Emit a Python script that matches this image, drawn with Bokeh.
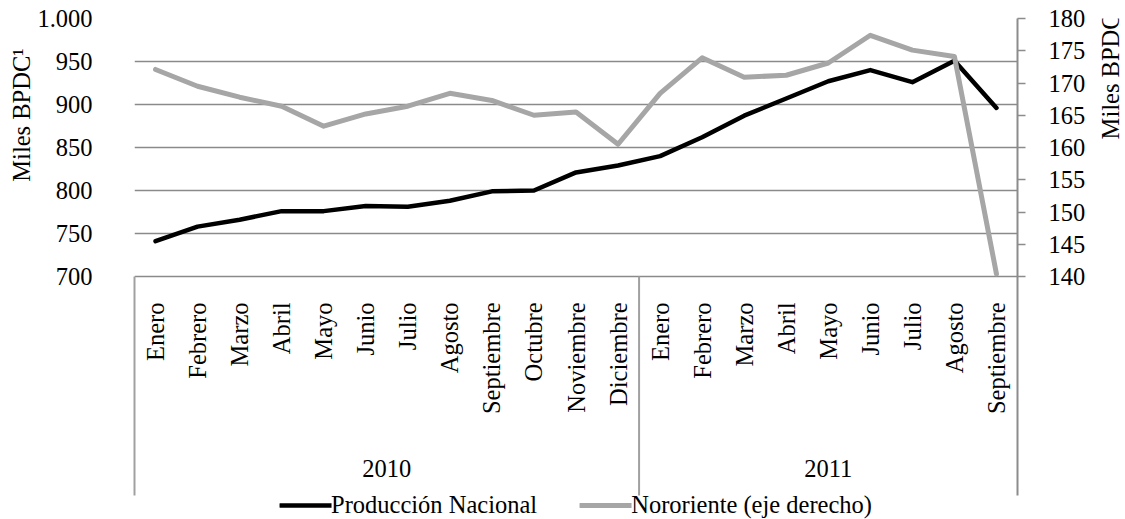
import math
from bokeh.plotting import figure
from bokeh.layouts import row
from bokeh.models import Range1d, LinearAxis, FixedTicker, Legend, LegendItem
from bokeh.core.properties import value
from bokeh.embed import file_html
from bokeh.resources import INLINE

# ---------------- data ----------------
years = ["2010", "2011"]
months_2010 = ["Enero", "Febrero", "Marzo", "Abril", "Mayo", "Junio", "Julio",
               "Agosto", "Septiembre", "Octubre", "Noviembre", "Diciembre"]
months_2011 = ["Enero", "Febrero", "Marzo", "Abril", "Mayo", "Junio", "Julio",
               "Agosto", "Septiembre"]
produccion = [741, 758, 766, 776, 776, 782, 781, 788, 799, 800, 821, 829,
              840, 862, 887, 907, 927, 940, 926, 951, 896]
nororiente = [172.1, 169.5, 167.8, 166.4, 163.3, 165.2, 166.4, 168.4, 167.3, 165.0, 165.5, 160.5,
              168.4, 173.9, 170.9, 171.2, 173.1, 177.4, 175.1, 174.1, 140.4]
left_ticks = [700, 750, 800, 850, 900, 950, 1000]
right_ticks = [140, 145, 150, 155, 160, 165, 170, 175, 180]
left_title = "Miles BPDC¹"
right_title = "Miles BPDC"
series_names = ["Producción Nacional", "Nororiente (eje derecho)"]

# ---------------- layout ----------------
FONT_NAME = "Liberation Serif"
FONT = value(FONT_NAME)
FS = "24.5px"
H = 519
LW, MW, RW = 34, 1061, 30          # left title / main / right title widths
BL = 98                            # main figure left border
FW = 885                           # frame width
BR = MW - BL - FW
BT = 18
FH = H - BT                        # frame height
TOP_H = 258                        # pixel height of the value area
SEP_END = 477                      # separator lines end (px below frame top)

months = months_2010 + months_2011
n = len(months)
xs = [i + 0.5 for i in range(n)]

l_lo, l_hi = left_ticks[0], left_ticks[-1]
r_lo, r_hi = right_ticks[0], right_ticks[-1]
scale = FH / TOP_H
y_start = l_hi - (l_hi - l_lo) * scale
r_start = r_hi - (r_hi - r_lo) * scale

p = figure(width=MW, height=H, output_backend="svg", toolbar_location=None,
           x_range=Range1d(0, n), y_range=Range1d(y_start, l_hi),
           x_axis_location=None, y_axis_location="left",
           min_border_left=BL, min_border_right=BR, min_border_top=BT, min_border_bottom=0,
           background_fill_color="white", border_fill_color="white")
p.outline_line_color = None
p.extra_y_ranges = {"right": Range1d(r_start, r_hi), "px": Range1d(-FH, 0)}

# grid
p.xgrid.visible = False
p.ygrid.ticker = FixedTicker(ticks=left_ticks)
p.ygrid.grid_line_color = "#8a8a8a"
p.ygrid.grid_line_width = 1.5

# left axis
la = p.yaxis[0]
la.ticker = FixedTicker(ticks=left_ticks)
la.major_label_overrides = {1000: "1.000"}
la.bounds = (l_hi - (l_hi - l_lo) * SEP_END / TOP_H, l_lo)
la.axis_line_color = "#a0a0a0"
la.axis_line_width = 2
la.major_tick_line_color = None
la.minor_tick_line_color = None
la.major_tick_out = 0
la.major_tick_in = 0
la.major_label_standoff = 42
la.major_label_text_font = FONT_NAME
la.major_label_text_font_size = FS
la.major_label_text_color = "black"

# right axis
ra = LinearAxis(y_range_name="right", ticker=FixedTicker(ticks=right_ticks))
ra.bounds = (r_hi - (r_hi - r_lo) * SEP_END / TOP_H, r_hi)
ra.axis_line_color = "#8c8c8c"
ra.axis_line_width = 2
ra.major_tick_line_color = "#8c8c8c"
ra.major_tick_line_width = 1.5
ra.major_tick_out = 8
ra.major_tick_in = 0
ra.minor_tick_line_color = None
ra.major_label_standoff = 23
ra.major_label_text_font = FONT_NAME
ra.major_label_text_font_size = FS
ra.major_label_text_color = "black"
p.add_layout(ra, "right")

# group separator
p.segment(x0=[len(months_2010)], y0=[-TOP_H], x1=[len(months_2010)], y1=[-SEP_END],
          y_range_name="px", line_color="#a0a0a0", line_width=2)

# month labels
p.text(x=xs, y=[-(TOP_H + 26)] * n, text=months, y_range_name="px",
       angle=math.pi / 2, text_align="right", text_baseline="middle",
       text_font=FONT, text_font_size=FS, text_color="black")

# year labels
year_x = [len(months_2010) / 2, len(months_2010) + len(months_2011) / 2]
p.text(x=year_x, y=[-450] * 2, text=years, y_range_name="px",
       text_align="center", text_baseline="middle",
       text_font=FONT, text_font_size=FS, text_color="black")

# lines
r1 = p.line(xs, produccion, line_color="black", line_width=4.5,
            line_join="round", line_cap="round")
r2 = p.line(xs, nororiente, y_range_name="right", line_color="#a6a6a6", line_width=5,
            line_join="round", line_cap="round")

# legend
legend = Legend(items=[LegendItem(label=series_names[0], renderers=[r1]),
                       LegendItem(label=series_names[1], renderers=[r2])],
                orientation="horizontal", location="bottom_center",
                glyph_width=52, glyph_height=20, label_standoff=0, spacing=42,
                padding=0, margin=0, background_fill_alpha=0, border_line_color=None,
                label_text_font=FONT_NAME, label_text_font_size=FS, label_text_color="black")
p.add_layout(legend)


# ---------------- axis titles (narrow side figures) ----------------
def title_fig(w, text, x, y):
    f = figure(width=w, height=H, output_backend="svg", toolbar_location=None,
               x_range=Range1d(0, w), y_range=Range1d(-H, 0),
               x_axis_location=None, y_axis_location=None,
               min_border=0, min_border_left=0, min_border_right=0,
               min_border_top=0, min_border_bottom=0,
               background_fill_color="white", border_fill_color="white")
    f.outline_line_color = None
    f.grid.visible = False
    f.text(x=[x], y=[y], text=[text], angle=math.pi / 2,
           text_align="center", text_baseline="middle",
           text_font=FONT, text_font_size=FS, text_color="black")
    return f


lt = title_fig(LW, left_title, 20.5, -100)
rt = title_fig(RW, right_title, 15, -60)

layout = row(lt, p, rt, spacing=0)
open("out.html", "w").write(file_html(layout, INLINE))
